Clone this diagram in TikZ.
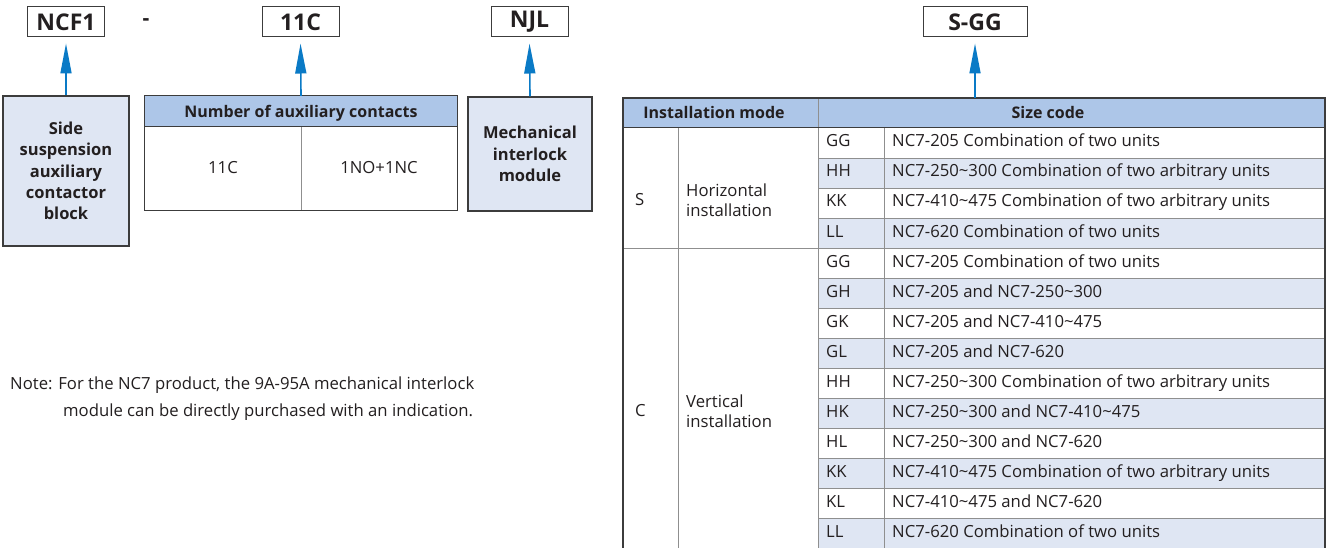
\documentclass[tikz,border=0pt]{standalone}
\usepackage{fontspec}
\setmainfont{Open Sans}
\usetikzlibrary{arrows.meta}
\definecolor{hdr}{HTML}{ADC6E8}
\definecolor{rowshade}{HTML}{DFE6F3}
\definecolor{arrowblue}{HTML}{0A7AC6}
\definecolor{bord}{HTML}{3C3C3C}
\definecolor{innerline}{HTML}{8F8F8F}
\definecolor{txt}{HTML}{231F20}
\newcommand{\mytilde}{\textasciitilde{}}
\begin{document}
\begin{tikzpicture}[x=1pt,y=-1pt,
  every node/.style={text=txt},
  codebox/.style={draw=bord, line width=1pt, fill=white, minimum width=77pt, minimum height=30pt, inner sep=0pt, font=\fontsize{23}{26}\selectfont\bfseries},
  arr/.style={draw=arrowblue, line width=1.6pt, -{Triangle[length=30pt,width=11pt]}, shorten >=6pt},
  labbox/.style={draw=bord, line width=1.3pt, fill=rowshade, align=center, inner sep=0pt, font=\fontsize{16.5}{21.3}\selectfont\bfseries},
  cell/.style={inner sep=0pt, font=\fontsize{16.7}{20}\selectfont},
  hcell/.style={inner sep=0pt, font=\fontsize{16}{20}\selectfont\bfseries},
  outer/.style={draw=bord, line width=1.3pt},
  thin/.style={draw=innerline, line width=0.9pt}
]
\useasboundingbox (0,0) rectangle (1327,548);
\fill[white] (0,0) rectangle (1327,548);

% code boxes
\node[codebox] (ncf1) at (66,22) {NCF1};
\node[font=\fontsize{21}{24}\selectfont\bfseries, inner sep=0pt] (dash) at (146,22) {-};
\node[codebox] (c11) at (300.5,22) {11C};
\node[codebox] (njl) at (529.5,22) {NJL};
\node[codebox, minimum width=104pt] (sgg) at (975,22) {S-GG};

% side box
\node[labbox, minimum width=126pt, minimum height=150pt] (side) at (66,171) {Side\\suspension\\auxiliary\\contactor\\block};

% aux table
\node[hcell, fill=hdr, minimum width=312pt, minimum height=30pt, text height=14pt, text depth=0pt] (auxhead) at (301,111) {Number of auxiliary contacts};
\node[cell, fill=white, minimum width=156pt, minimum height=84pt] (aux1) at (223,168) {11C};
\node[cell, fill=white, minimum width=156pt, minimum height=84pt] (aux2) at (379,168) {1NO+1NC};
\draw[thin] (aux1.north east) -- (aux1.south east);
\draw[outer] (auxhead.south west) -- (auxhead.south east);
\draw[outer] (auxhead.north west) rectangle (aux2.south east);

% mechanical box
\node[labbox, minimum width=124pt, minimum height=114pt] (mech) at (530,154) {Mechanical\\interlock\\module};

% arrows
\draw[arr] (side.north) -- (ncf1.south);
\draw[arr] (auxhead.north) -- (c11.south);
\draw[arr] (mech.north) -- (njl.south);

% note
\node[cell, anchor=base west] (note1) at (10,389) {Note: For the NC7 product, the 9A-95A mechanical interlock};
\node[cell, anchor=base west] (note2) at (63,416) {module can be directly purchased with an indication.};

% right table
\coordinate (tabtop) at (975,98);
\fill[hdr] (623,98) rectangle (1325,128);
\foreach \r in {2,4,6,8,10,12,14} {
  \fill[rowshade] (818,{128+30*(\r-1)}) rectangle (1325,{128+30*\r});
}
\foreach \r in {1,2,3,5,6,7,8,9,10,11,12,13} {
  \draw[thin] (818,{128+30*\r}) -- (1325,{128+30*\r});
}
\draw[thin] (623,248) -- (1325,248);
\draw[thin] (678,128) -- (678,548);
\draw[thin] (818,98) -- (818,548);
\draw[thin] (884,128) -- (884,548);
\draw[draw=bord, line width=1pt] (623,128) -- (1325,128);
\draw[outer] (623,548) -- (623,98) -- (1325,98) -- (1325,548);

\node[hcell] (hmode) at (714,113) {Installation mode};
\node[hcell] (hsize) at (1048,113) {Size code};

\node[cell, anchor=west] (modeS) at (635,200) {S};
\node[cell, anchor=west, align=left, font=\fontsize{16.7}{19.5}\selectfont] (modeSt) at (686,200) {Horizontal\\installation};
\node[cell, anchor=west] (modeC) at (635,411) {C};
\node[cell, anchor=west, align=left, font=\fontsize{16.7}{19.5}\selectfont] (modeCt) at (686,411) {Vertical\\installation};

\foreach \i/\c/\d in {
  1/GG/NC7-205 Combination of two units,
  2/HH/NC7-250\mytilde300 Combination of two arbitrary units,
  3/KK/NC7-410\mytilde475 Combination of two arbitrary units,
  4/LL/NC7-620 Combination of two units,
  5/GG/NC7-205 Combination of two units,
  6/GH/NC7-205 and NC7-250\mytilde300,
  7/GK/NC7-205 and NC7-410\mytilde475,
  8/GL/NC7-205 and NC7-620,
  9/HH/NC7-250\mytilde300 Combination of two arbitrary units,
  10/HK/NC7-250\mytilde300 and NC7-410\mytilde475,
  11/HL/NC7-250\mytilde300 and NC7-620,
  12/KK/NC7-410\mytilde475 Combination of two arbitrary units,
  13/KL/NC7-410\mytilde475 and NC7-620,
  14/LL/NC7-620 Combination of two units} {
  \node[cell, anchor=base west] (code\i) at (826,{128+30*(\i-1)+19}) {\c};
  \node[cell, anchor=base west] (desc\i) at (892,{128+30*(\i-1)+19}) {\d};
}

\draw[arr] (tabtop) -- (sgg.south);
\end{tikzpicture}
\end{document}
